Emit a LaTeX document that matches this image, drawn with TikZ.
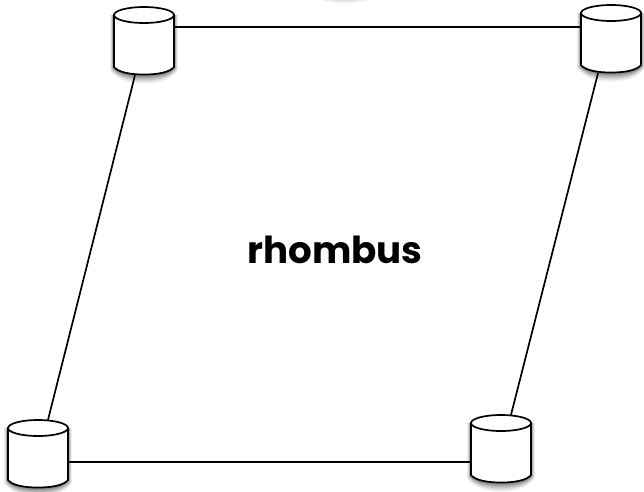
\documentclass[tikz,border=0pt]{standalone}
\usepackage{fontspec}
\setmainfont{Poppins}
\tikzset{
  x=1pt,y=-1pt,
  link/.style={draw=black,line width=1.7pt},
  dbbody/.style={draw=black,line width=1.7pt,fill=white},
  dbanchor/.style={rectangle,inner sep=0pt,minimum width=60pt,minimum height=68pt},
}
\newcommand{\dbcyl}[3]{%
  % #1 name, #2 left x, #3 top y of the ellipse
  \begin{scope}[shift={(#2,#3)}]
    \foreach \s/\o in {9/0.03,8/0.04,7/0.05,6/0.06,5/0.07,4/0.08,3/0.09,2/0.10,1/0.10}{
      \fill[black,opacity=\o] (-\s*0.45,8) -- (-\s*0.45,60+\s*0.4) .. controls (4,66+\s*0.8) and (15,68+\s) .. (30,68+\s) .. controls (45,68+\s) and (56,66+\s*0.8) .. (60+\s*0.45,60+\s*0.4) -- (60+\s*0.45,8) -- cycle;
    }
    \path[dbbody] (0,8) -- (0,60) .. controls (4,65) and (15,67.5) .. (30,67.5) .. controls (45,67.5) and (56,65) .. (60,60) -- (60,8) -- cycle;
    \path[dbbody] (30,8) ellipse[x radius=30,y radius=8];
    \node[dbanchor] (#1) at (30,34) {};
  \end{scope}
}
\begin{document}
\begin{tikzpicture}
\useasboundingbox (0,0) rectangle (644,491);
\fill[black,opacity=0.06] (345,-4) ellipse[x radius=30,y radius=7];
\fill[black,opacity=0.08] (345,-4) ellipse[x radius=24,y radius=5];
\dbcyl{nw}{114}{7}
\dbcyl{ne}{581}{5}
\dbcyl{sw}{8}{420}
\dbcyl{se}{471}{415}
\draw[link] ([yshift=14pt]nw.east) -- ([yshift=12pt]ne.west);
\draw[link] ([yshift=-8pt]sw.east) -- ([yshift=-13pt]se.west);
\draw[link] ([xshift=-9pt]nw.south) -- ([xshift=10pt]sw.north);
\draw[link] ([xshift=-13pt]ne.south) -- ([xshift=10pt]se.north);
\node[font=\fontsize{37.2}{37.2}\selectfont\bfseries,text=black] (label) at (335,250) {rhombus};
\end{tikzpicture}
\end{document}
